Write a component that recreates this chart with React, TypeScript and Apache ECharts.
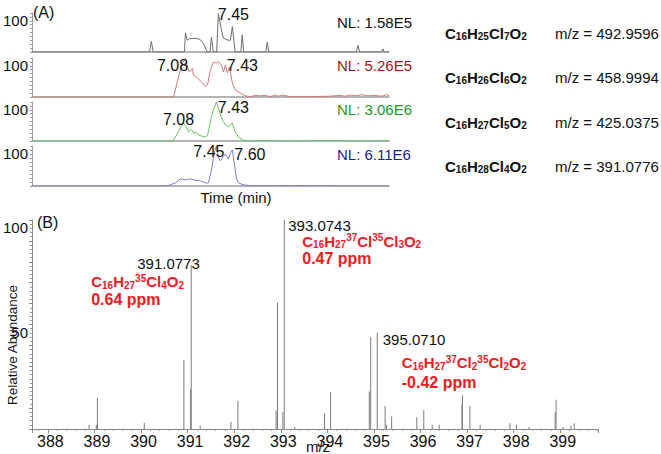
import React, { useEffect, useRef } from "react";
import * as echarts from "echarts";

const FF = '"Liberation Sans", Arial, Helvetica, sans-serif';

// ---------- Panel A: extracted ion chromatograms ----------
const timeMin = 5.48;
const timeMax = 9.25;

const trace1Time = [5.48, 6.72, 6.74, 6.76, 7.09, 7.10, 7.12, 7.14, 7.20, 7.25, 7.29, 7.33, 7.36, 7.375, 7.395, 7.43, 7.448, 7.48, 7.50, 7.54, 7.575, 7.596, 7.625, 7.685, 7.70, 7.715, 7.95, 7.964, 7.98, 8.905, 8.922, 8.94, 9.17, 9.185, 9.20, 9.25];
const trace1Val = [0, 0, 27, 0, 0, 49, 30, 34, 35, 33, 22, 0, 0, 38, 0, 0, 98, 57, 36, 31, 30, 65, 0, 0, 44, 0, 0, 25, 0, 0, 17, 0, 0, 8, 0, 0];

const trace2Time = [5.48, 6.975, 7.027, 7.069, 7.101, 7.122, 7.143, 7.175, 7.185, 7.227, 7.28, 7.312, 7.333, 7.364, 7.396, 7.427, 7.448, 7.48, 7.501, 7.522, 7.543, 7.564, 7.596, 7.627, 7.659, 7.733, 7.785, 7.838, 7.89, 7.943, 7.996, 8.048, 8.08, 8.122, 8.206, 8.40, 8.627, 8.732, 8.785, 8.837, 8.90, 8.964, 9.027, 9.10, 9.175, 9.227, 9.25];
const trace2Val = [0, 0, 51, 87, 99, 77, 64, 74, 56, 49, 36, 26, 31, 69, 90, 87, 90, 82, 64, 82, 62, 77, 36, 18, 13, 3, 1, 4, 3, 4, 1, 5, 2, 5, 1, 1, 2, 4, 2, 5, 3, 6, 3, 4, 2, 6, 3];

const trace3Time = [5.48, 6.964, 7.006, 7.048, 7.08, 7.112, 7.133, 7.164, 7.185, 7.217, 7.238, 7.28, 7.312, 7.333, 7.375, 7.396, 7.427, 7.448, 7.469, 7.501, 7.522, 7.554, 7.596, 7.627, 7.659, 7.711, 7.785, 7.90, 8.20, 8.60, 9.0, 9.25];
const trace3Val = [0, 0, 15, 35, 46, 35, 23, 30, 20, 22, 15, 12, 10, 14, 62, 80, 100, 85, 67, 50, 41, 36, 46, 23, 10, 2, 0, 1, 0, 1, 0, 1];

const trace4Time = [5.48, 6.89, 6.943, 6.996, 7.048, 7.101, 7.154, 7.206, 7.259, 7.291, 7.322, 7.343, 7.375, 7.406, 7.427, 7.448, 7.469, 7.501, 7.522, 7.554, 7.575, 7.596, 7.617, 7.638, 7.659, 7.711, 7.785, 7.90, 8.30, 8.70, 9.25];
const trace4Val = [0, 0, 3, 8, 18, 15, 18, 14, 13, 10, 7, 8, 40, 85, 100, 72, 63, 74, 80, 68, 83, 90, 55, 20, 8, 3, 1, 0, 1, 0, 0];

// peak annotations: [time, value, label]
const peaks1 = [[7.448, 98, "7.45"]];
const peaks2 = [[7.101, 99, "7.08"], [7.427, 87, "7.43"]];
const peaks3 = [[7.08, 46, "7.08"], [7.427, 100, "7.43"]];
const peaks4 = [[7.427, 100, "7.45"], [7.596, 90, "7.60"]];

const nlLabels = ["NL: 1.58E5", "NL: 5.26E5", "NL: 3.06E6", "NL: 6.11E6"];
const formulasA = [
  "{b|C}{s|16}{b|H}{s|25}{b|Cl}{s|7}{b|O}{s|2}",
  "{b|C}{s|16}{b|H}{s|26}{b|Cl}{s|6}{b|O}{s|2}",
  "{b|C}{s|16}{b|H}{s|27}{b|Cl}{s|5}{b|O}{s|2}",
  "{b|C}{s|16}{b|H}{s|28}{b|Cl}{s|4}{b|O}{s|2}",
];
const mzTextA = ["m/z = 492.9596", "m/z = 458.9994", "m/z = 425.0375", "m/z = 391.0776"];

// ---------- Panel B: mass spectrum ----------
const mzMin = 387.66;
const mzMax = 399.81;
const specMz = [388.886, 389.04, 389.064, 390.07, 390.92, 391.065, 391.0773, 391.27, 391.93, 392.08, 392.90, 392.93, 393.045, 393.0743, 393.30, 393.94, 394.07, 394.90, 394.93, 395.071, 395.24, 395.27, 395.38, 395.92, 396.07, 396.25, 396.40, 396.89, 396.90, 397.06, 397.28, 397.92, 398.06, 398.33, 398.89, 398.91, 399.06, 399.23, 399.30];
const specInt = [2, 2, 15, 3, 33, 19, 78.5, 1.5, 3.5, 13.5, 8.8, 60.5, 8, 100, 1, 7.5, 17.7, 18, 44, 46, 11, 2, 6, 5.6, 9, 2, 2, 12, 16, 11, 2, 2.7, 2, 1, 8, 14, 1, 1.5, 2.7];

const specPeakMz = [391.0773, 393.0743, 395.071];
const specPeakInt = [78.5, 100, 46];
const specPeakText = ["391.0773", "393.0743", "395.0710"];
const specFormula = [
  "{b|C}{s|16}{b|H}{s|27}{p|35}{b|Cl}{s|4}{b|O}{s|2}",
  "{b|C}{s|16}{b|H}{s|27}{p|37}{b|Cl}{p|35}{b|Cl}{s|3}{b|O}{s|2}",
  "{b|C}{s|16}{b|H}{s|27}{p|37}{b|Cl}{s|2}{p|35}{b|Cl}{s|2}{b|O}{s|2}",
];
const specPpm = ["0.64 ppm", "0.47 ppm", "-0.42 ppm"];

// ---------- layout (pixels) ----------
const panelTops = [13, 58, 102, 146];
const panelHeights = [39, 39, 39, 40];
const traceColors = ["#6e6e6e", "#d47a76", "#6cc06a", "#7b7bd6"];
const nlColors = ["#111111", "#a11414", "#1e9a1e", "#1c1c8e"];
const peakOffsets = [
  [[15, 1]],
  [[-13, 7], [26, 2]],
  [[-5, -4], [17, 5.5]],
  [[-7.5, 5.5], [17.5, 4]],
];
const specMzOffsets = [[-54, -1], [4, 5], [5.5, 7]];
const specFormulaOffsets = [[-100, 17], [18, 21], [24.5, 30]];
const specPpmOffsets = [[-100, 35], [18, 38], [24.5, 50]];
const RED = "#f01a1f";

const richFor = (color: string) => ({
  b: { fontFamily: FF, fontSize: 15, fontWeight: "bold", color, fill: color, lineHeight: 17, verticalAlign: "middle" },
  s: { fontFamily: FF, fontSize: 10, fontWeight: "bold", color, fill: color, lineHeight: 9, verticalAlign: "bottom" },
  p: { fontFamily: FF, fontSize: 10, fontWeight: "bold", color, fill: color, lineHeight: 9, verticalAlign: "top" },
});

export default function App() {
  const ref = useRef<HTMLDivElement>(null);

  useEffect(() => {
    if (!ref.current) return;
    const chart = echarts.init(ref.current, null, { renderer: "svg" });

    const traces = [
      [trace1Time, trace1Val],
      [trace2Time, trace2Val],
      [trace3Time, trace3Val],
      [trace4Time, trace4Val],
    ];
    const peaks = [peaks1, peaks2, peaks3, peaks4];

    const grids: any[] = panelTops.map((top, i) => ({ left: 31, top, width: 358, height: panelHeights[i] }));
    grids.push({ left: 32, top: 220, width: 566, height: 209 });

    const xAxes: any[] = panelTops.map((_, i) => ({
      type: "value",
      gridIndex: i,
      min: timeMin,
      max: timeMax,
      axisLine: { show: true, onZero: false, lineStyle: { color: "#9c9c9c", width: 1.5 } },
      axisTick: { show: false },
      axisLabel: { show: false },
      splitLine: { show: false },
    }));
    xAxes.push({
      type: "value",
      gridIndex: 4,
      min: mzMin,
      max: mzMax,
      splitNumber: 12,
      axisLine: { show: true, onZero: false, lineStyle: { color: "#8a8a8a", width: 1 } },
      axisTick: { show: true, length: 4, lineStyle: { color: "#8a8a8a" } },
      minorTick: { show: true, splitNumber: 5, length: 2, lineStyle: { color: "#9a9a9a" } },
      axisLabel: {
        fontFamily: FF,
        fontSize: 16,
        color: "#111",
        margin: 4,
        padding: [0, 0, 0, 5],
        showMinLabel: false,
        showMaxLabel: false,
        formatter: (v: number) => (Math.abs(v - Math.round(v)) < 1e-6 ? String(Math.round(v)) : ""),
      },
      splitLine: { show: false },
    });

    const yAxes: any[] = panelTops.map((_, i) => ({
      type: "value",
      gridIndex: i,
      min: 0,
      max: 100,
      interval: 10,
      axisLine: { show: true, lineStyle: { color: "#9c9c9c", width: 1 } },
      axisTick: { show: true, length: 2, lineStyle: { color: "#9c9c9c" } },
      axisLabel: {
        fontFamily: FF,
        fontSize: 15,
        color: "#111",
        margin: 4,
        verticalAlign: "top",
        formatter: (v: number) => (v === 100 ? "100" : ""),
      },
      splitLine: { show: false },
    }));
    yAxes.push({
      type: "value",
      gridIndex: 4,
      min: 0,
      max: 100,
      interval: 10,
      axisLine: { show: true, lineStyle: { color: "#8a8a8a", width: 1 } },
      axisTick: { show: true, length: 3, lineStyle: { color: "#8a8a8a" } },
      minorTick: { show: true, splitNumber: 5, length: 2, lineStyle: { color: "#9a9a9a" } },
      axisLabel: {
        fontFamily: FF,
        fontSize: 15,
        color: "#111",
        margin: 4,
        verticalAlign: "top",
        formatter: (v: number) => (v === 100 || v === 50 ? String(v) : ""),
      },
      splitLine: { show: false },
    });

    const hiddenSym = { symbol: "circle", symbolSize: 1, itemStyle: { color: "rgba(0,0,0,0)" }, silent: true };

    const series: any[] = traces.map((tr, i) => ({
      type: "line",
      xAxisIndex: i,
      yAxisIndex: i,
      data: tr[0].map((t, j) => [t, tr[1][j]]),
      showSymbol: false,
      symbol: "none",
      lineStyle: { color: traceColors[i], width: 1 },
      itemStyle: { color: traceColors[i] },
      markPoint: {
        ...hiddenSym,
        data: peaks[i].map((p: any, k: number) => ({
          coord: [p[0], p[1]],
          label: {
            show: true,
            position: "inside",
            align: "center",
            verticalAlign: "middle",
            offset: peakOffsets[i][k],
            formatter: p[2],
            fontFamily: FF,
            fontSize: 16,
            color: "#111",
          },
        })),
      },
    }));

    const specMarks: any[] = [];
    specPeakMz.forEach((mz, k) => {
      specMarks.push({
        coord: [mz, specPeakInt[k]],
        label: {
          show: true, position: "inside", align: "left", verticalAlign: "middle",
          offset: specMzOffsets[k], formatter: specPeakText[k],
          fontFamily: FF, fontSize: 15, color: "#111",
        },
      });
      specMarks.push({
        coord: [mz, specPeakInt[k]],
        label: {
          show: true, position: "inside", align: "left", verticalAlign: "middle",
          offset: specFormulaOffsets[k], formatter: specFormula[k],
          fontFamily: FF, fontSize: 15, fontWeight: "bold", color: RED,
          rich: richFor(RED),
        },
      });
      specMarks.push({
        coord: [mz, specPeakInt[k]],
        label: {
          show: true, position: "inside", align: "left", verticalAlign: "middle",
          offset: specPpmOffsets[k], formatter: specPpm[k],
          fontFamily: FF, fontSize: 16, fontWeight: "bold", color: RED, lineHeight: 16,
        },
      });
    });

    series.push({
      type: "bar",
      xAxisIndex: 4,
      yAxisIndex: 4,
      data: specMz.map((m, i) => [m, specInt[i]]),
      barWidth: 1,
      itemStyle: { color: "#7c7c7c" },
      markPoint: { ...hiddenSym, data: specMarks },
    });

    const graphics: any[] = [];
    const txt = (x: number, y: number, text: string, opts: any = {}) => ({
      type: "text",
      x,
      y,
      silent: true,
      style: {
        text,
        fontFamily: FF,
        fontSize: 15,
        fill: "#111",
        align: "left",
        verticalAlign: "middle",
        ...opts,
      },
    });
    graphics.push(txt(33, 12, "(A)", { fontSize: 16 }));
    graphics.push(txt(37, 222, "(B)", { fontSize: 16 }));
    const rowY = [22, 65, 109, 154];
    const formY = [33, 77, 122, 166];
    nlLabels.forEach((t, i) => graphics.push(txt(337, rowY[i], t, { fill: nlColors[i] })));
    formulasA.forEach((t, i) => graphics.push(txt(445, formY[i], t, { rich: richFor("#111"), fontWeight: "bold" })));
    mzTextA.forEach((t, i) => graphics.push(txt(555, formY[i], t)));
    graphics.push(txt(236, 197, "Time (min)", { align: "center" }));
    graphics.push(txt(318, 446, "m/z", { align: "center" }));
    graphics.push({
      type: "text",
      x: 12,
      y: 345,
      rotation: Math.PI / 2,
      silent: true,
      style: {
        text: "Relative Abundance",
        fontFamily: FF,
        fontSize: 13.5,
        fill: "#111",
        align: "center",
        verticalAlign: "middle",
      },
    });

    chart.setOption({
      animation: false,
      backgroundColor: "#ffffff",
      grid: grids,
      xAxis: xAxes,
      yAxis: yAxes,
      series,
      graphic: graphics,
    });

    return () => chart.dispose();
  }, []);

  return (
    <div
      ref={ref}
      style={{ position: "absolute", left: 0, top: 0, width: 661, height: 454, background: "#fff" }}
    />
  );
}
